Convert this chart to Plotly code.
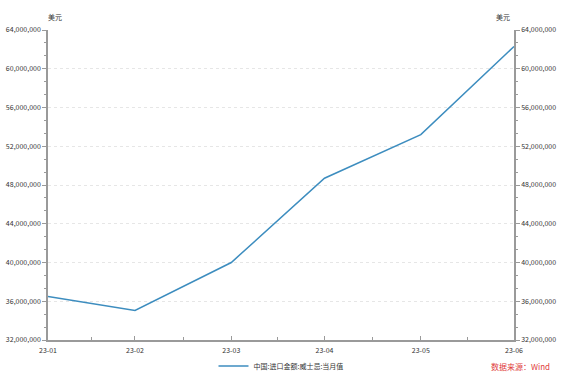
import plotly.graph_objects as go
import pandas as pd

dates = ["2023-01-31", "2023-02-28", "2023-03-31", "2023-04-30", "2023-05-31", "2023-06-30"]
tick_labels = ["23-01", "23-02", "23-03", "23-04", "23-05", "23-06"]
values = [36500000, 35050000, 40000000, 48700000, 53200000, 62300000]
series_name = "中国:进口金额:威士忌:当月值"
y_ticks = [32000000, 36000000, 40000000, 44000000, 48000000, 52000000, 56000000, 60000000, 64000000]
y_labels = [f"{v:,}" for v in y_ticks]

d = pd.to_datetime(dates)
minor_x = [d[i] + (d[i + 1] - d[i]) / 2 for i in range(len(d) - 1)]

FONT = "Noto Sans CJK SC"
AX = "#9a9a9a"
TXT = "#333333"

fig = go.Figure()
fig.add_trace(go.Scatter(x=d, y=values, mode="lines", name=series_name,
                         line=dict(color="#3d8dbf", width=1.5)))
fig.add_trace(go.Scatter(x=d, y=values, mode="lines", yaxis="y2", showlegend=False,
                         hoverinfo="skip", line=dict(color="rgba(0,0,0,0)", width=0)))

yax = dict(range=[32000000, 64000000], tickvals=y_ticks, ticktext=y_labels,
           ticks="outside", ticklen=4, tickcolor=AX, tickwidth=1,
           showline=True, linecolor=AX, linewidth=1.5,
           tickfont=dict(family=FONT, size=7, color=TXT),
           zeroline=False, automargin=False,
           minor=dict(dtick=4000000 / 3, tick0=32000000, ticks="outside", ticklen=2,
                      tickcolor=AX, showgrid=False))

fig.update_layout(
    width=561, height=379,
    margin=dict(l=48, r=47, t=30, b=39),
    paper_bgcolor="white", plot_bgcolor="white",
    showlegend=True,
    legend=dict(orientation="h", x=0.5, xanchor="center", yref="container", y=0.034, yanchor="middle",
                font=dict(family=FONT, size=7, color=TXT), itemwidth=30,
                bgcolor="rgba(0,0,0,0)"),
    xaxis=dict(type="date", range=[d[0], d[-1]], tickvals=d, ticktext=tick_labels,
               ticks="inside", ticklen=4, tickcolor=AX, automargin=False,
               ticklabelstandoff=3,
               showline=True, linecolor=AX, linewidth=1.5, showgrid=False,
               tickfont=dict(family=FONT, size=7, color=TXT),
               minor=dict(tickvals=minor_x, ticks="inside", ticklen=3, tickcolor=AX, showgrid=False)),
    yaxis=dict(**yax, side="left", showgrid=True, gridcolor="#e6e6e6", griddash="dot", gridwidth=1),
    yaxis2=dict(**yax, side="right", overlaying="y", showgrid=False),
    annotations=[
        dict(text="美元", xref="paper", yref="paper", x=0, y=1, xshift=-2, yshift=20,
             showarrow=False, font=dict(family=FONT, size=7, color=TXT)),
        dict(text="美元", xref="paper", yref="paper", x=1, y=1, xshift=-2, yshift=20,
             showarrow=False, font=dict(family=FONT, size=7, color=TXT)),
        dict(text="数据来源：Wind", xref="paper", yref="paper", x=1, y=0, xshift=38, yshift=-34,
             xanchor="right", showarrow=False, font=dict(family=FONT, size=8, color="#e0403c")),
    ],
)

fig.write_html("out.html")
